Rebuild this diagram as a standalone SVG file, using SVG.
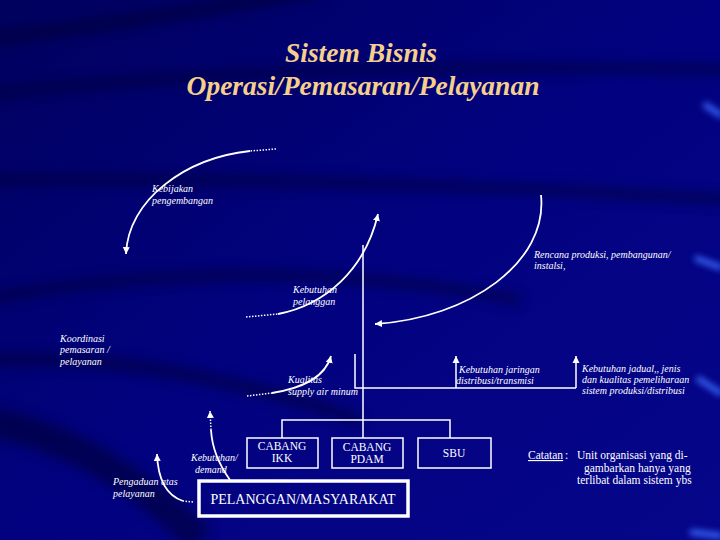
<svg xmlns="http://www.w3.org/2000/svg" width="720" height="540" viewBox="0 0 720 540">
<defs>
<linearGradient id="bg" x1="0" y1="0" x2="1" y2="1">
<stop offset="0" stop-color="#00005e"/>
<stop offset="0.5" stop-color="#020280"/>
<stop offset="1" stop-color="#06068a"/>
</linearGradient>
<filter id="blur" x="-20%" y="-50%" width="140%" height="200%"><feGaussianBlur stdDeviation="6"/></filter>
<filter id="blur2" x="-50%" y="-50%" width="200%" height="200%"><feGaussianBlur stdDeviation="3"/></filter>
<marker id="ah" markerWidth="8" markerHeight="8" refX="7" refY="4" orient="auto" markerUnits="userSpaceOnUse">
<path d="M0,0.5 L7,4 L0,7.5 Z" fill="#fff"/>
</marker>
<style>
.lbl{font-family:"Liberation Serif",serif;font-style:italic;font-size:10px;fill:#fff}
.box{fill:none;stroke:#fff;stroke-width:1.5}
.ln{fill:none;stroke:#fff;stroke-width:1.5}
.cv{fill:none;stroke:#fff;stroke-width:1.8}
.dt{fill:none;stroke:#fff;stroke-width:1.5;stroke-dasharray:1.5,1.5}
.bt{font-family:"Liberation Serif",serif;font-size:11.5px;fill:#fff;text-anchor:middle}
.note{font-family:"Liberation Serif",serif;font-size:11.5px;fill:#fff}
.title{font-family:"Liberation Serif",serif;font-style:italic;font-weight:bold;font-size:27.5px;fill:#f5cf8c;text-anchor:middle}
</style>
</defs>
<rect width="720" height="540" fill="url(#bg)"/>
<g id="background" filter="url(#blur)" fill="none" stroke="#000030" opacity="0.55">
<path d="M-20,40 Q150,20 320,-10" stroke-width="14"/>
<path d="M-20,95 Q300,60 740,70" stroke-width="10"/>
<path d="M-20,180 Q300,175 740,200" stroke-width="10"/>
<path d="M-20,300 Q250,250 520,300" stroke-width="10"/>
<path d="M-20,360 Q150,350 360,420" stroke-width="12"/>
<path d="M-20,420 Q100,440 200,540" stroke-width="30"/>
</g>
<g id="highlights" filter="url(#blur2)" stroke="#3a6cff" stroke-width="6" fill="none" opacity="0.9">
<path d="M704,104 L722,116"/>
<path d="M695,258 L722,268"/>
<path d="M697,378 L722,394"/>
<path d="M690,532 L722,536"/>
</g>
<g id="title">
<text class="title" x="361" y="62">Sistem Bisnis</text>
<text class="title" x="363" y="95">Operasi/Pemasaran/Pelayanan</text>
</g>
<g id="connectors">
<path class="ln" d="M363,245 V438"/>
<path class="ln" d="M355,354 V388 H576"/>
<path class="ln" d="M456,388 V356" marker-end="url(#ah)"/>
<path class="ln" d="M576,388 V356" marker-end="url(#ah)"/>
<path class="ln" d="M282,438 V420 H450 V438"/>
<path class="dt" d="M276,149 L250,151"/>
<path class="cv" d="M250,151 C185,158 128,200 126,254" marker-end="url(#ah)"/>
<path class="cv" d="M541,195 C548,262 470,318 375,324" marker-end="url(#ah)"/>
<path class="dt" d="M246,317 L278,314"/>
<path class="cv" d="M278,314 C325,305 365,270 378,214" marker-end="url(#ah)"/>
<path class="dt" d="M247,396 L272,393"/>
<path class="cv" d="M272,393 C302,388 325,378 331,356" marker-end="url(#ah)"/>
<path class="cv" d="M230,480 C220,466 212,448 211,430"/>
<path class="dt" d="M211,430 L210,411" marker-end="url(#ah)"/>
<path class="dt" d="M193,502 L183,501"/>
<path class="cv" d="M183,501 C168,496 158,482 157,454" marker-end="url(#ah)"/>
</g>
<g id="labels">
<text class="lbl" x="152" y="192">Kebijakan</text>
<text class="lbl" x="152" y="204">pengembangan</text>
<text class="lbl" x="534" y="258">Rencana produksi, pembangunan/</text>
<text class="lbl" x="534" y="269">instalsi,</text>
<text class="lbl" x="293" y="293">Kebutuhan</text>
<text class="lbl" x="293" y="305">pelanggan</text>
<text class="lbl" x="60" y="342">Koordinasi</text>
<text class="lbl" x="60" y="353">pemasaran /</text>
<text class="lbl" x="60" y="365">pelayanan</text>
<text class="lbl" x="288" y="383">Kualitas</text>
<text class="lbl" x="288" y="395">supply air minum</text>
<text class="lbl" x="459" y="373">Kebutuhan jaringan</text>
<text class="lbl" x="456" y="384">distribusi/transmisi</text>
<text class="lbl" x="582" y="372">Kebutuhan jadual,, jenis</text>
<text class="lbl" x="582" y="383">dan kualitas pemeliharaan</text>
<text class="lbl" x="582" y="394">sistem produksi/distribusi</text>
<text class="lbl" x="191" y="461">Kebutuhan/</text>
<text class="lbl" x="195" y="473">demand</text>
<text class="lbl" x="113" y="485">Pengaduan atas</text>
<text class="lbl" x="113" y="497">pelayanan</text>
</g>
<g id="node-ikk">
<rect class="box" x="247" y="438" width="71" height="30"/>
<text class="bt" x="282" y="450">CABANG</text>
<text class="bt" x="282" y="462">IKK</text>
</g>
<g id="node-pdam">
<rect class="box" x="332" y="438" width="71" height="30"/>
<text class="bt" x="367" y="451">CABANG</text>
<text class="bt" x="367" y="463">PDAM</text>
</g>
<g id="node-sbu">
<rect class="box" x="418" y="438" width="73" height="30"/>
<text class="bt" x="454" y="457">SBU</text>
</g>
<g id="node-pelanggan">
<rect x="199" y="481" width="209" height="35" fill="none" stroke="#fff" stroke-width="3.5"/>
<text x="303" y="504" font-family="Liberation Serif, serif" font-size="14px" fill="#fff" text-anchor="middle">PELANGGAN/MASYARAKAT</text>
</g>
<g id="note">
<text class="note" x="528" y="459" text-decoration="underline">Catatan</text>
<text class="note" x="565" y="459">:</text>
<text class="note" x="577" y="459">Unit organisasi yang di-</text>
<text class="note" x="584" y="471.5">gambarkan hanya yang</text>
<text class="note" x="577" y="484">terlibat dalam sistem ybs</text>
</g>
</svg>
